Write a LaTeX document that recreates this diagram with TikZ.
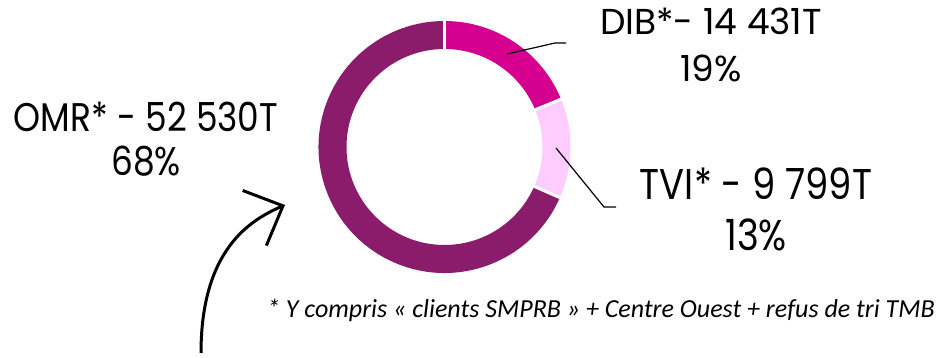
\documentclass[tikz,border=0pt]{standalone}
\usepackage{fontspec}
\setmainfont{Poppins}
\newfontfamily\narrowfont[FakeStretch=0.86]{Poppins}
\newfontfamily\notefont{Carlito}
\usetikzlibrary{arrows.meta}
\definecolor{omrpurple}{HTML}{8B1C6C}
\definecolor{dibpink}{HTML}{D5008F}
\definecolor{tvirose}{HTML}{FFCCFF}
% one piece of the ring: colour, start angle, end angle
\newcommand\ringpart[3]{\fill[#1] (c) ++(#2:126) arc[start angle=#2, end angle=#3, radius=126]
    -- ++(#3:-28) arc[start angle=#3, end angle=#2, radius=98] -- cycle;}
\begin{document}
\begin{tikzpicture}
    [x=1pt, y=1pt, tag/.style={align=center, inner sep=0pt, anchor=north},
     leader/.style={draw=black, line width=1.2pt}, gap/.style={draw=white, line width=3pt}]
    \useasboundingbox (0,0) rectangle (941,358);
    \coordinate (c) at (444.5,211);
    \ringpart{dibpink}{90}{22.3}
    \ringpart{tvirose}{22.3}{-23.7}
    \ringpart{omrpurple}{-23.7}{-270}
    \foreach \a in {90,22.3,-23.7}
        \draw[gap] (c) ++(\a:95) -- ++(\a:34);
    \node[tag, font=\fontsize{36}{47}\selectfont] (dib) at (711,350) {DIB*- 14 431T\\19\%};
    \node[tag, font=\narrowfont\fontsize{43}{51}\selectfont] (tvi) at (756,190) {TVI* - 9 799T\\13\%};
    \node[tag, font=\narrowfont\fontsize{40}{44}\selectfont] (omr) at (146,256) {OMR* - 52 530T\\68\%};
    \coordinate (dibin) at (507,304);
    \coordinate (dibknee) at (555,315);
    \coordinate (dibend) at (566,315);
    \draw[leader] (dibin) -- (dibknee) -- (dibend);
    \coordinate (tviin) at (556,210);
    \coordinate (tviknee) at (604,151);
    \coordinate (tviend) at (616,151);
    \draw[leader] (tviin) -- (tviknee) -- (tviend);
    \node[anchor=base east, inner sep=0pt, font=\notefont\itshape\fontsize{26}{30}\selectfont] (note) at (935,40)
        {* Y compris « clients SMPRB » + Centre Ouest + refus de tri TMB};
    \coordinate (tail) at (201,5);
    \coordinate (tip) at (285,153);
    \draw[line width=3pt, -{Straight Barb[length=31pt, width=60pt]}] (tail) .. controls (201,108) and (250,138) .. (tip);
\end{tikzpicture}
\end{document}
